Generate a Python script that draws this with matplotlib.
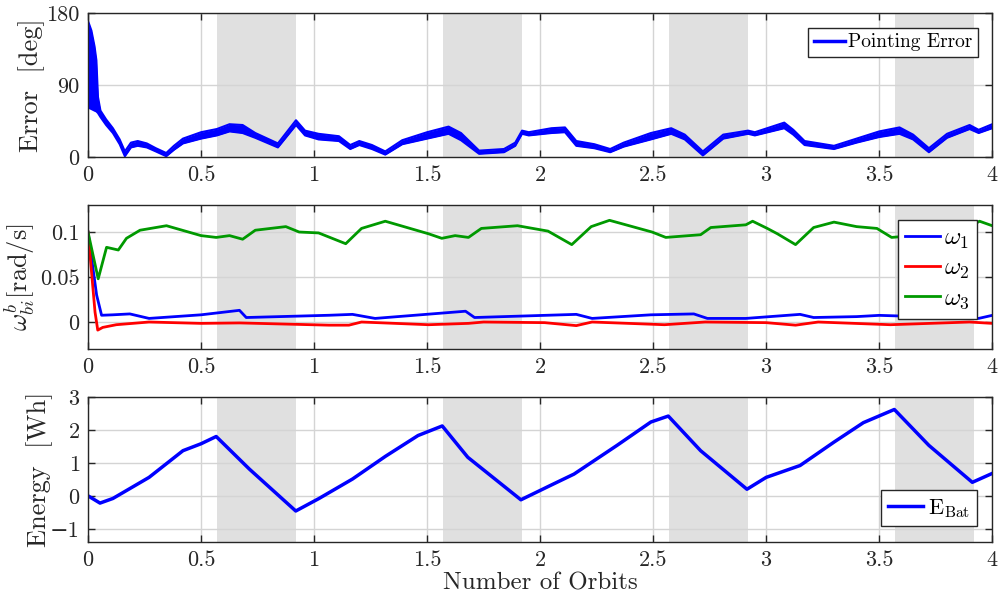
import matplotlib.pyplot as plt
from matplotlib.lines import Line2D

# Pointing error band (lower / upper edge of the oscillation), deg
err_x = [0, 0.015, 0.029, 0.037, 0.044, 0.055, 0.08, 0.11, 0.14, 0.163, 0.19, 0.22,
         0.26, 0.30, 0.346, 0.38, 0.42, 0.5, 0.57, 0.626, 0.684, 0.74, 0.84, 0.92,
         0.96, 1.02, 1.11, 1.16, 1.2, 1.256, 1.315, 1.39, 1.5, 1.595, 1.65, 1.73,
         1.84, 1.89, 1.92, 1.95, 2.05, 2.11, 2.16, 2.24, 2.31, 2.37, 2.49, 2.58,
         2.64, 2.72, 2.81, 2.92, 2.95, 3.08, 3.12, 3.17, 3.30, 3.40, 3.50, 3.59,
         3.65, 3.72, 3.80, 3.90, 3.94, 4.0]
err_lo = [62, 60, 58, 57, 55, 50, 40, 30, 16, 1, 12, 14, 12, 7, 1, 9, 17, 23, 27, 32,
          30, 24, 12, 40, 27, 22, 20, 10, 15, 10, 3, 16, 23, 29, 21, 4, 6, 14, 29, 27,
          30, 31, 14, 11, 6, 13, 22, 29, 22, 2, 23, 29, 27, 36, 28, 15, 10, 18, 25, 29,
          22, 6, 24, 35, 30, 36]
err_hi = [170, 158, 138, 121, 75, 58, 47, 36, 22, 7, 18, 20, 17, 11, 5, 14, 23, 31, 35,
          41, 40, 30, 17, 46, 33, 29, 26, 15, 20, 15, 7, 21, 31, 38, 30, 8, 10, 18, 33,
          31, 36, 37, 20, 16, 10, 18, 30, 36, 28, 7, 28, 33, 31, 43, 34, 20, 14, 23, 32,
          37, 28, 11, 29, 40, 34, 41]

# Body angular rates, rad/s
w1_x = [0, 0.038, 0.06, 0.11, 0.185, 0.27, 0.5, 0.67, 0.70, 1.066, 1.17, 1.27, 1.67,
        1.71, 2.16, 2.23, 2.49, 2.68, 2.74, 2.91, 3.15, 3.21, 3.40, 3.50, 3.94, 4.0]
w1 = [0.1, 0.03, 0.0075, 0.008, 0.009, 0.004, 0.008, 0.013, 0.005, 0.0075, 0.0085,
      0.004, 0.012, 0.005, 0.0085, 0.004, 0.008, 0.009, 0.004, 0.004, 0.0085, 0.005,
      0.006, 0.0074, 0.004, 0.0074]
w2_x = [0, 0.031, 0.043, 0.065, 0.125, 0.27, 0.5, 0.67, 1.066, 1.154, 1.21, 1.507,
        1.683, 1.75, 2.02, 2.16, 2.23, 2.55, 2.73, 3.0, 3.13, 3.23, 3.55, 3.9, 4.0]
w2 = [0.1, 0.011, -0.009, -0.006, -0.003, 0.0, -0.0015, -0.001, -0.0035, -0.0035,
      0.0, -0.003, -0.0015, 0.0, -0.0007, -0.004, 0.0, -0.003, 0.0, -0.0007, -0.0035,
      0.0, -0.003, 0.0, -0.0015]
w3_x = [0, 0.045, 0.082, 0.134, 0.17, 0.23, 0.347, 0.5, 0.567, 0.626, 0.684, 0.74,
        0.875, 0.934, 1.02, 1.14, 1.21, 1.315, 1.507, 1.565, 1.624, 1.683, 1.74, 1.90,
        2.035, 2.14, 2.226, 2.307, 2.495, 2.556, 2.71, 2.755, 2.91, 2.94, 3.005, 3.05,
        3.13, 3.21, 3.30, 3.40, 3.49, 3.555, 3.70, 3.85, 3.944, 4.0]
w3 = [0.1, 0.048, 0.083, 0.080, 0.093, 0.102, 0.107, 0.096, 0.094, 0.096, 0.092,
      0.102, 0.106, 0.100, 0.099, 0.087, 0.104, 0.112, 0.098, 0.093, 0.096, 0.094,
      0.104, 0.107, 0.101, 0.086, 0.106, 0.113, 0.100, 0.094, 0.097, 0.105, 0.108,
      0.112, 0.104, 0.098, 0.086, 0.105, 0.111, 0.106, 0.104, 0.094, 0.097, 0.099,
      0.112, 0.107]

# Battery energy, Wh
en_x = [0, 0.053, 0.11, 0.27, 0.42, 0.5, 0.567, 0.714, 0.919, 1.022, 1.17, 1.316,
        1.46, 1.567, 1.68, 1.915, 2.05, 2.15, 2.34, 2.49, 2.567, 2.71, 2.915, 3.0,
        3.15, 3.30, 3.43, 3.567, 3.72, 3.912, 4.0]
en = [0, -0.22, -0.08, 0.56, 1.37, 1.58, 1.80, 0.81, -0.46, -0.08, 0.51, 1.2, 1.83,
      2.12, 1.17, -0.12, 0.33, 0.66, 1.53, 2.24, 2.42, 1.37, 0.2, 0.56, 0.92, 1.63,
      2.22, 2.62, 1.53, 0.41, 0.68]

# Eclipse intervals (orbits)
eclipses = [(0.57, 0.92), (1.57, 1.92), (2.57, 2.92), (3.57, 3.92)]

x_ticks = [0, 0.5, 1, 1.5, 2, 2.5, 3, 3.5, 4]
x_labels = ['0', '0.5', '1', '1.5', '2', '2.5', '3', '3.5', '4']

plt.rcParams['font.family'] = ['cmr10', 'DejaVu Serif']
plt.rcParams['mathtext.fontset'] = 'cm'
plt.rcParams['font.size'] = 15

dark = '#262626'
fig = plt.figure(figsize=(9.98, 6.03), dpi=100)
left, width = 0.0882, 0.906
ax1 = fig.add_axes([left, 0.7396, width, 0.2388])
ax2 = fig.add_axes([left, 0.4212, width, 0.2388])
ax3 = fig.add_axes([left, 0.1012, width, 0.2405])

for ax in (ax1, ax2, ax3):
    for a, b in eclipses:
        ax.axvspan(a, b, color='#e0e0e0', lw=0, zorder=0.2)
    ax.set_xlim(0, 4)
    ax.set_xticks(x_ticks)
    ax.set_xticklabels(x_labels)
    ax.grid(True, color='#d4d4d4', lw=1.0, zorder=0.5)
    ax.set_axisbelow(True)
    ax.tick_params(direction='in', top=True, right=True, length=5, width=1,
                   colors=dark, labelsize=16, pad=6)
    for s in ax.spines.values():
        s.set_color(dark)
        s.set_linewidth(1.0)

# Top: pointing error
ax1.fill_between(err_x, err_lo, err_hi, color='#0000ff', lw=0, zorder=2)
ax1.plot(err_x, err_lo, color='#0000ff', lw=1.5, zorder=2)
ax1.plot(err_x, err_hi, color='#0000ff', lw=1.5, zorder=2)
ax1.set_ylim(0, 180)
ax1.set_yticks([0, 90, 180])
ax1.set_ylabel('Error  [deg]', fontsize=19, color=dark, labelpad=1)
ax1.legend(handles=[Line2D([], [], color='#0000ff', lw=2.5)], labels=['Pointing Error'],
           loc='upper right', fontsize=14, fancybox=False, edgecolor=dark,
           framealpha=1, handlelength=1.6, handletextpad=0.15,
           borderaxespad=0.75, borderpad=0.3)

# Middle: angular rates
ax2.plot(w1_x, w1, color='#0000ff', lw=2, label=r'$\omega_1$')
ax2.plot(w2_x, w2, color='#ff0000', lw=2, label=r'$\omega_2$')
ax2.plot(w3_x, w3, color='#009900', lw=2, label=r'$\omega_3$')
ax2.set_ylim(-0.03, 0.13)
ax2.set_yticks([0, 0.05, 0.1])
ax2.set_yticklabels(['0', '0.05', '0.1'])
ax2.set_ylabel(r'$\omega_{bi}^{b}$[rad/s]', fontsize=19, color=dark, labelpad=2)
ax2.legend(loc='upper right', fontsize=18, fancybox=False, edgecolor=dark,
           framealpha=1, handlelength=1.4, handletextpad=0.15,
           borderaxespad=0.6, borderpad=0.3, labelspacing=0.25)

# Bottom: battery energy
ax3.plot(en_x, en, color='#0000ff', lw=2.5, label=r'E$_{\mathregular{Bat}}$')
ax3.set_ylim(-1.4, 3)
ax3.set_yticks([-1, 0, 1, 2, 3])
ax3.set_ylabel('Energy  [Wh]', fontsize=19, color=dark, labelpad=-2)
ax3.set_xlabel('Number of Orbits', fontsize=18, color=dark, labelpad=2)
ax3.legend(loc='lower right', fontsize=16, fancybox=False, edgecolor=dark,
           framealpha=1, handlelength=1.6, handletextpad=0.2,
           borderaxespad=0.7, borderpad=0.3)

fig.savefig('out.png', dpi=100)
